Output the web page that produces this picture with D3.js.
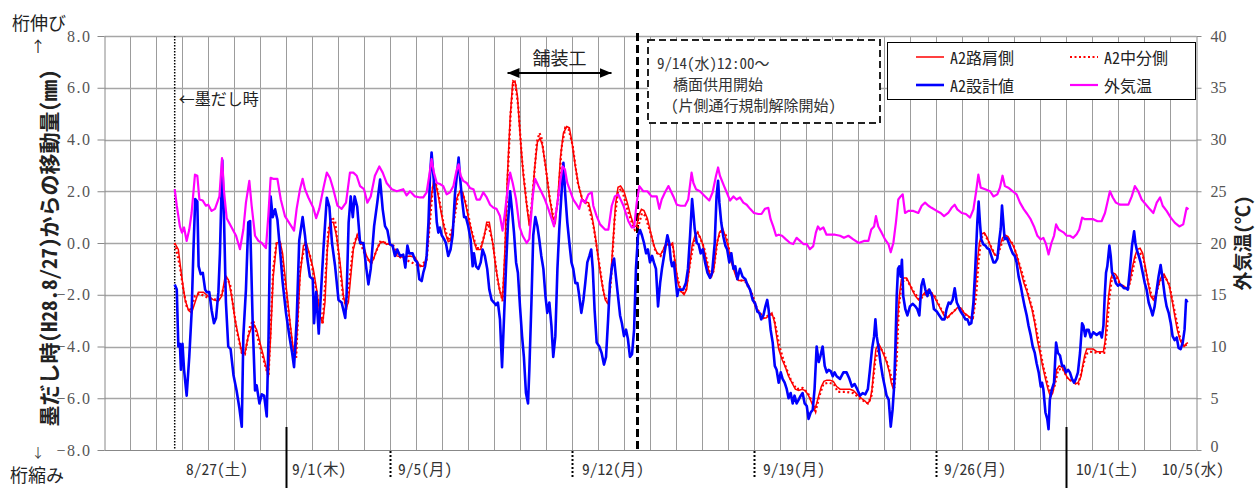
<!DOCTYPE html>
<html>
<head>
<meta charset="utf-8">
<script src="https://cdn.jsdelivr.net/npm/d3@7"></script>
<style>
  body { margin: 0; background: #fff; }
  svg { display: block; }
  .jp { font-family: "Noto Sans CJK JP", sans-serif; font-feature-settings: "hwid"; }
  .num { font-family: "Liberation Serif", serif; font-size: 16px; fill: #555; }
</style>
</head>
<body>
<script>
// time is counted in days from 8/25 0:00, values in mm (deck) and degC (air)
var roadSide = [
  [2.70,0.0],[2.84,-0.25],[2.97,-1.3],[3.10,-2.2],[3.23,-2.6],[3.35,-2.7],[3.48,-2.3],[3.61,-1.9],[3.80,-1.9],[3.99,-2.05],
  [4.19,-2.2],[4.38,-2.25],[4.51,-2.05],[4.63,-1.35],[4.76,-1.4],[4.89,-2.05],[5.02,-2.95],[5.15,-3.6],[5.28,-4.25],[5.40,-4.25],
  [5.53,-3.6],[5.72,-3.1],[5.85,-3.35],[5.98,-3.85],[6.11,-4.35],[6.24,-4.9],[6.30,-5.2],[6.39,-3.6],[6.49,-1.3],[6.62,0.0],
  [6.75,0.05],[6.85,-0.4],[7.01,-1.9],[7.14,-3.1],[7.26,-4.1],[7.35,-4.35],[7.42,-3.2],[7.52,-1.3],[7.65,-0.1],[7.78,-0.05],
  [7.90,-0.5],[8.03,-1.0],[8.16,-1.8],[8.29,-2.8],[8.39,-3.1],[8.48,-2.3],[8.57,-0.25],[8.67,0.8],[8.80,0.8],[8.93,0.25],
  [9.06,-0.75],[9.19,-2.05],[9.29,-2.5],[9.38,-2.3],[9.47,-1.3],[9.57,-0.25],[9.70,0.25],[9.80,0.15],[9.96,-0.1],[10.08,-0.5],
  [10.21,-0.75],[10.34,-0.65],[10.47,-0.25],[10.60,0.0],[10.72,0.05],[10.85,-0.05],[10.98,0.0],[11.11,-0.2],[11.24,-0.5],[11.49,-0.55],
  [11.75,-0.5],[11.94,-0.55],[12.14,-0.9],[12.26,-0.9],[12.37,-0.65],[12.46,0.3],[12.54,1.55],[12.65,2.35],[12.75,2.25],[12.84,1.8],
  [12.97,1.05],[13.10,0.4],[13.22,0.05],[13.31,0.1],[13.42,0.8],[13.54,1.7],[13.67,2.0],[13.78,1.95],[13.90,1.45],[14.03,0.8],
  [14.19,0.15],[14.31,-0.25],[14.47,-0.25],[14.60,0.25],[14.70,0.8],[14.80,0.8],[14.93,0.0],[15.06,-1.0],[15.19,-1.8],[15.31,-2.2],
  [15.40,-0.25],[15.49,2.45],[15.60,4.8],[15.70,6.2],[15.79,6.25],[15.88,5.7],[15.98,4.25],[16.11,2.6],[16.24,1.45],[16.34,0.65],
  [16.44,1.45],[16.54,2.85],[16.65,3.9],[16.75,4.05],[16.85,3.75],[16.98,2.85],[17.11,1.8],[17.24,1.0],[17.34,0.8],[17.44,1.8],
  [17.54,3.35],[17.65,4.25],[17.78,4.5],[17.88,4.45],[17.98,3.9],[18.11,2.95],[18.24,2.2],[18.37,1.7],[18.49,1.6],[18.62,1.55],
  [18.75,1.05],[18.88,0.25],[19.01,-0.75],[19.13,-1.55],[19.26,-2.2],[19.37,-2.35],[19.44,-1.8],[19.54,-0.25],[19.65,1.45],[19.75,2.15],
  [19.85,2.2],[19.98,2.0],[20.11,1.55],[20.24,1.05],[20.37,0.65],[20.47,0.65],[20.54,1.05],[20.65,1.3],[20.75,1.25],[20.88,0.95],
  [21.01,0.4],[21.13,-0.1],[21.26,-0.4],[21.39,-0.45],[21.49,-0.25],[21.60,0.0],[21.72,-0.1],[21.85,0.0],[21.95,-0.75],[22.06,-1.55],
  [22.16,-1.85],[22.29,-2.0],[22.39,-1.8],[22.49,-1.0],[22.60,-0.1],[22.70,0.25],[22.80,0.4],[22.90,0.25],[23.03,-0.1],[23.16,-0.75],
  [23.26,-1.15],[23.35,-1.3],[23.44,-1.0],[23.54,-0.1],[23.65,0.4],[23.78,0.55],[23.88,0.25],[23.98,-0.1],[24.08,-0.65],[24.19,-1.0],
  [24.29,-1.3],[24.39,-1.45],[24.52,-1.45],[24.65,-1.45],[24.78,-1.65],[24.90,-2.05],[25.03,-2.45],[25.16,-2.7],[25.29,-2.9],[25.44,-2.9],
  [25.57,-2.8],[25.67,-2.7],[25.78,-3.1],[25.85,-3.6],[25.93,-4.1],[26.06,-4.5],[26.19,-4.8],[26.31,-5.15],[26.44,-5.4],[26.57,-5.65],
  [26.70,-5.7],[26.83,-5.65],[26.95,-5.7],[27.08,-5.9],[27.21,-6.2],[27.31,-6.45],[27.39,-6.2],[27.47,-5.9],[27.57,-5.55],[27.67,-5.35],
  [27.78,-5.3],[27.90,-5.3],[28.03,-5.35],[28.16,-5.55],[28.29,-5.65],[28.42,-5.65],[28.54,-5.65],[28.67,-5.65],[28.80,-5.7],[28.95,-5.85],
  [29.11,-6.0],[29.24,-6.1],[29.34,-6.2],[29.44,-6.1],[29.52,-5.65],[29.60,-4.75],[29.67,-4.1],[29.78,-3.9],[29.88,-4.1],[29.98,-4.35],
  [30.08,-4.6],[30.19,-5.0],[30.26,-5.4],[30.34,-5.65],[30.42,-4.9],[30.49,-3.2],[30.57,-2.05],[30.65,-1.4],[30.75,-1.35],[30.85,-1.35],
  [30.95,-1.55],[31.06,-1.8],[31.19,-2.05],[31.31,-2.2],[31.44,-2.05],[31.57,-1.9],[31.70,-1.8],[31.78,-1.9],[31.90,-2.05],[32.03,-2.3],
  [32.16,-2.55],[32.29,-2.8],[32.42,-2.9],[32.54,-2.75],[32.67,-2.65],[32.80,-2.5],[32.93,-2.5],[33.06,-2.7],[33.19,-2.8],[33.31,-2.9],
  [33.42,-2.7],[33.49,-1.8],[33.57,-0.75],[33.65,0.0],[33.74,0.35],[33.83,0.4],[33.93,0.25],[34.03,0.0],[34.13,-0.25],[34.24,-0.45],
  [34.34,-0.5],[34.44,-0.1],[34.54,0.2],[34.65,0.3],[34.75,0.25],[34.85,0.05],[34.95,-0.1],[35.06,-0.4],[35.16,-0.75],[35.26,-1.15],
  [35.36,-1.55],[35.47,-1.85],[35.57,-2.2],[35.67,-2.55],[35.78,-3.1],[35.88,-3.75],[35.98,-4.25],[36.08,-4.75],[36.19,-5.25],[36.29,-5.65],
  [36.37,-5.9],[36.47,-5.8],[36.55,-5.4],[36.62,-4.9],[36.72,-4.75],[36.83,-4.8],[36.93,-5.0],[37.03,-5.2],[37.13,-5.3],[37.24,-5.3],
  [37.34,-5.45],[37.44,-5.4],[37.56,-5.15],[37.62,-4.75],[37.70,-4.35],[37.78,-4.1],[37.90,-4.1],[38.03,-4.1],[38.16,-4.2],[38.29,-4.2],
  [38.42,-4.2],[38.49,-3.75],[38.54,-2.95],[38.62,-2.05],[38.70,-1.4],[38.78,-1.15],[38.88,-1.2],[38.98,-1.35],[39.06,-1.6],[39.19,-1.65],
  [39.31,-1.75],[39.42,-1.6],[39.52,-1.0],[39.62,-0.55],[39.72,-0.25],[39.83,-0.2],[39.93,-0.4],[40.03,-0.9],[40.14,-1.55],[40.24,-2.05],
  [40.34,-2.2],[40.44,-2.0],[40.54,-1.6],[40.65,-1.3],[40.75,-1.2],[40.85,-1.4],[40.95,-1.65],[41.06,-2.2],[41.16,-2.8],[41.26,-3.35],
  [41.37,-3.75],[41.44,-3.9],[41.52,-4.0],[41.60,-3.9],[41.67,-3.85]
];

var median = [
  [2.70,0.0],[2.90,-0.9],[3.03,-1.8],[3.16,-2.45],[3.29,-2.65],[3.48,-2.05],[3.65,-1.95],[3.84,-2.05],[4.06,-2.15],[4.38,-2.2],
  [4.50,-2.0],[4.70,-1.35],[4.83,-1.6],[5.08,-3.35],[5.28,-4.25],[5.40,-4.3],[5.60,-3.2],[5.72,-3.0],[5.98,-4.0],[6.24,-4.95],
  [6.31,-5.15],[6.49,-1.0],[6.62,0.05],[6.75,0.1],[7.01,-2.05],[7.26,-4.25],[7.37,-4.45],[7.52,-1.0],[7.71,-0.05],[7.90,-0.45],
  [8.16,-1.9],[8.39,-3.15],[8.61,0.5],[8.74,1.0],[8.87,0.85],[9.19,-2.2],[9.31,-2.45],[9.57,-0.1],[9.72,0.3],[10.08,-0.6],
  [10.28,-0.75],[10.60,0.05],[10.85,0.0],[11.11,-0.1],[11.37,-0.55],[12.14,-0.9],[12.39,-0.65],[12.50,0.6],[12.63,2.2],[12.73,2.35],
  [12.84,1.9],[13.03,0.8],[13.22,0.1],[13.42,0.7],[13.60,1.85],[13.72,2.05],[13.90,1.55],[14.10,0.55],[14.31,-0.2],[14.47,-0.2],
  [14.62,0.35],[14.75,0.75],[14.93,0.05],[15.13,-1.5],[15.31,-2.25],[15.40,-0.6],[15.50,2.4],[15.62,5.0],[15.72,6.25],[15.80,6.2],
  [15.92,5.2],[16.05,3.3],[16.24,1.5],[16.36,0.7],[16.50,2.3],[16.63,3.9],[16.73,4.25],[16.80,4.1],[16.96,3.0],[17.13,1.7],
  [17.30,0.8],[17.45,1.7],[17.58,3.7],[17.72,4.45],[17.85,4.4],[18.00,3.8],[18.20,2.35],[18.40,1.6],[18.60,1.5],[18.80,0.7],
  [19.00,-0.6],[19.20,-1.95],[19.37,-2.35],[19.47,-1.6],[19.62,0.9],[19.75,2.0],[19.90,2.1],[20.05,1.5],[20.24,0.9],[20.40,0.5],
  [20.52,0.6],[20.67,1.15],[20.80,1.05],[21.01,0.35],[21.20,-0.35],[21.39,-0.5],[21.60,-0.05],[21.72,-0.1],[21.85,-0.05],[22.00,-1.2],
  [22.20,-1.95],[22.35,-1.9],[22.52,-0.8],[22.70,0.2],[22.82,0.4],[23.05,-0.15],[23.30,-1.25],[23.42,-1.1],[23.58,0.1],[23.72,0.5],
  [23.90,0.3],[24.10,-0.6],[24.35,-1.4],[24.65,-1.5],[24.90,-1.95],[25.10,-2.55],[25.35,-2.9],[25.62,-2.75],[25.75,-2.9],[25.95,-3.95],
  [26.15,-4.65],[26.40,-5.3],[26.62,-5.65],[26.85,-5.6],[27.05,-5.8],[27.25,-6.2],[27.35,-6.5],[27.50,-5.9],[27.65,-5.45],[27.85,-5.4],
  [28.05,-5.45],[28.20,-5.75],[28.50,-5.75],[28.80,-5.8],[29.10,-6.05],[29.36,-6.2],[29.50,-5.9],[29.65,-4.5],[29.80,-4.0],[30.00,-4.3],
  [30.20,-4.95],[30.38,-5.6],[30.47,-4.5],[30.55,-2.5],[30.67,-1.5],[30.85,-1.4],[31.10,-1.85],[31.35,-2.2],[31.70,-1.85],[31.90,-2.0],
  [32.20,-2.6],[32.42,-2.9],[32.70,-2.6],[32.93,-2.55],[33.20,-2.85],[33.40,-2.9],[33.52,-2.1],[33.62,-0.7],[33.72,0.2],[33.85,0.35],
  [34.05,-0.05],[34.25,-0.45],[34.36,-0.45],[34.55,0.1],[34.70,0.25],[34.95,-0.05],[35.20,-0.85],[35.45,-1.7],[35.70,-2.6],[35.90,-3.65],
  [36.10,-4.75],[36.30,-5.55],[36.42,-5.85],[36.55,-5.5],[36.68,-4.9],[36.85,-4.85],[37.05,-5.25],[37.30,-5.4],[37.46,-5.45],[37.60,-4.9],
  [37.75,-4.3],[37.90,-4.2],[38.20,-4.25],[38.45,-4.25],[38.55,-3.4],[38.65,-2.1],[38.75,-1.35],[38.90,-1.3],[39.10,-1.65],[39.36,-1.8],
  [39.50,-1.3],[39.65,-0.55],[39.80,-0.35],[39.95,-0.55],[40.10,-1.35],[40.30,-2.15],[40.42,-2.05],[40.60,-1.45],[40.78,-1.3],[40.95,-1.6],
  [41.15,-2.6],[41.35,-3.6],[41.50,-4.0],[41.67,-3.9]
];

var design = [
  [2.70,-1.6],[2.78,-1.8],[2.84,-4.0],[2.90,-3.9],[2.94,-4.9],[3.00,-3.9],[3.06,-4.9],[3.16,-5.9],[3.26,-4.4],[3.35,-2.7],
  [3.42,-0.3],[3.49,1.7],[3.57,1.6],[3.62,-0.9],[3.70,-1.2],[3.78,-1.15],[3.87,-1.8],[3.93,-1.9],[4.03,-1.9],[4.12,-2.6],
  [4.21,-3.1],[4.29,-2.9],[4.38,-1.9],[4.44,-0.4],[4.53,3.2],[4.60,0.8],[4.67,-2.3],[4.76,-4.0],[4.85,-4.1],[4.96,-5.1],
  [5.08,-5.7],[5.19,-6.4],[5.28,-7.1],[5.34,-3.6],[5.44,-1.8],[5.53,0.8],[5.60,0.85],[5.70,-3.1],[5.79,-5.7],[5.85,-5.5],
  [5.96,-6.2],[6.05,-5.85],[6.14,-5.9],[6.24,-6.7],[6.31,-3.6],[6.39,1.8],[6.47,1.0],[6.56,1.3],[6.65,0.9],[6.75,-0.25],
  [6.85,-1.5],[6.98,-2.7],[7.11,-3.6],[7.21,-4.2],[7.29,-4.8],[7.39,-3.0],[7.49,0.1],[7.62,1.0],[7.71,0.3],[7.80,-0.6],
  [7.90,-1.3],[8.01,-1.4],[8.06,-3.1],[8.14,-1.9],[8.24,-3.5],[8.31,-2.2],[8.42,-0.25],[8.55,1.75],[8.65,1.4],[8.75,0.0],
  [8.87,-0.9],[9.00,-2.2],[9.12,-2.3],[9.26,-2.9],[9.31,-2.05],[9.39,0.8],[9.47,1.8],[9.55,1.0],[9.62,1.8],[9.72,1.4],
  [9.83,0.0],[9.96,0.0],[10.06,-0.9],[10.15,-1.6],[10.24,-1.0],[10.37,0.65],[10.49,1.55],[10.60,2.45],[10.70,1.3],[10.79,0.65],
  [10.88,0.5],[10.98,-0.05],[11.08,-0.1],[11.17,-0.5],[11.26,-0.25],[11.37,-0.5],[11.49,-0.45],[11.57,-0.95],[11.65,-0.1],[11.72,-0.4],
  [11.85,-0.4],[11.94,-0.65],[12.03,-0.75],[12.11,-1.4],[12.20,-1.47],[12.26,-1.15],[12.33,-0.9],[12.39,-0.5],[12.46,0.8],[12.52,2.6],
  [12.58,3.5],[12.65,2.6],[12.71,1.9],[12.78,0.8],[12.84,0.4],[12.90,0.6],[12.97,0.3],[13.06,0.15],[13.13,0.0],[13.22,-0.5],
  [13.31,-0.25],[13.39,0.3],[13.48,1.9],[13.54,2.5],[13.62,3.3],[13.67,2.6],[13.75,1.7],[13.83,1.0],[13.90,1.0],[13.99,0.65],
  [14.08,0.15],[14.16,-0.9],[14.21,-0.4],[14.29,-0.9],[14.38,-1.0],[14.47,-0.75],[14.54,-0.25],[14.63,-0.5],[14.72,-1.0],[14.80,-1.8],
  [14.89,-2.2],[14.98,-2.3],[15.06,-2.4],[15.13,-2.3],[15.21,-2.95],[15.29,-4.8],[15.37,-2.8],[15.44,-1.0],[15.52,0.8],[15.60,2.0],
  [15.67,1.3],[15.75,0.4],[15.83,-0.75],[15.90,-1.15],[15.98,-2.45],[16.06,-3.6],[16.13,-4.4],[16.21,-5.8],[16.29,-6.2],[16.34,-4.9],
  [16.42,-2.3],[16.49,0.3],[16.57,1.0],[16.65,0.65],[16.72,0.15],[16.80,-0.5],[16.88,-1.0],[16.96,-2.05],[17.03,-2.7],[17.11,-2.3],
  [17.19,-3.2],[17.26,-4.4],[17.34,-3.6],[17.42,-1.0],[17.49,0.5],[17.57,1.8],[17.65,3.1],[17.72,1.9],[17.80,0.8],[17.88,0.0],
  [17.96,-0.75],[18.03,-1.0],[18.11,-1.55],[18.19,-1.55],[18.26,-2.05],[18.34,-2.7],[18.42,-2.2],[18.49,-1.55],[18.57,-0.75],[18.65,-0.5],
  [18.72,-0.25],[18.78,-1.0],[18.85,-2.6],[18.93,-3.85],[19.03,-4.0],[19.12,-4.25],[19.21,-4.7],[19.29,-4.4],[19.37,-2.95],[19.44,-1.55],
  [19.52,-0.9],[19.60,-0.6],[19.67,-1.3],[19.75,-2.05],[19.83,-2.8],[19.90,-3.1],[19.98,-3.6],[20.06,-3.35],[20.13,-3.7],[20.21,-4.4],
  [20.29,-4.3],[20.37,-3.35],[20.44,-1.0],[20.52,0.3],[20.60,0.5],[20.67,0.3],[20.75,0.0],[20.83,-0.4],[20.90,-0.25],[20.98,-0.75],
  [21.06,-0.5],[21.13,-0.75],[21.21,-1.0],[21.29,-2.45],[21.37,-1.55],[21.44,-1.0],[21.52,-0.5],[21.60,0.0],[21.65,0.3],[21.72,0.0],
  [21.78,-0.65],[21.83,-0.9],[21.90,-0.75],[21.98,-1.55],[22.03,-2.05],[22.08,-1.8],[22.16,-1.8],[22.26,-1.8],[22.36,-1.55],[22.44,-1.0],
  [22.52,0.25],[22.60,1.7],[22.65,1.15],[22.70,0.55],[22.78,0.0],[22.85,-0.05],[22.93,-0.4],[23.01,-0.25],[23.10,-0.75],[23.19,-1.15],
  [23.29,-1.35],[23.37,-1.15],[23.47,0.0],[23.54,1.8],[23.60,2.4],[23.65,1.55],[23.72,0.8],[23.80,0.25],[23.88,-0.1],[23.95,-0.25],
  [24.03,-0.75],[24.11,-0.4],[24.19,-1.0],[24.26,-0.9],[24.34,-1.4],[24.44,-1.0],[24.54,-1.3],[24.65,-1.4],[24.72,-1.6],[24.83,-1.8],
  [24.93,-2.2],[25.03,-2.35],[25.11,-2.65],[25.19,-2.7],[25.26,-2.95],[25.34,-2.8],[25.42,-2.45],[25.49,-2.2],[25.54,-2.55],[25.62,-3.35],
  [25.70,-3.85],[25.78,-4.75],[25.85,-4.9],[25.93,-5.4],[26.01,-5.0],[26.08,-5.25],[26.16,-5.4],[26.24,-5.65],[26.31,-6.0],[26.39,-5.8],
  [26.47,-6.2],[26.54,-5.9],[26.62,-6.2],[26.70,-6.05],[26.78,-5.9],[26.85,-5.8],[26.93,-6.2],[27.01,-6.3],[27.08,-6.8],[27.16,-6.55],
  [27.24,-6.45],[27.31,-5.65],[27.39,-4.0],[27.47,-4.6],[27.54,-4.35],[27.62,-4.0],[27.70,-4.75],[27.78,-5.0],[27.85,-4.9],[27.93,-4.95],
  [28.01,-5.15],[28.08,-5.0],[28.16,-5.15],[28.29,-5.25],[28.42,-5.0],[28.54,-5.0],[28.65,-5.25],[28.75,-5.55],[28.85,-5.45],[28.95,-5.65],
  [29.06,-5.9],[29.16,-5.8],[29.26,-5.85],[29.36,-5.65],[29.44,-4.9],[29.52,-4.1],[29.60,-3.6],[29.65,-2.95],[29.70,-3.6],[29.78,-4.1],
  [29.85,-4.65],[29.93,-5.15],[30.01,-5.55],[30.08,-5.9],[30.16,-6.05],[30.24,-7.1],[30.31,-6.45],[30.37,-5.55],[30.42,-4.0],[30.47,-2.05],
  [30.52,-1.0],[30.57,-0.9],[30.62,-1.3],[30.67,-0.65],[30.72,-2.05],[30.80,-2.55],[30.88,-2.8],[30.98,-2.45],[31.08,-2.35],[31.19,-2.45],
  [31.26,-2.55],[31.34,-2.8],[31.42,-1.65],[31.49,-1.4],[31.57,-1.8],[31.65,-2.05],[31.72,-1.8],[31.83,-2.05],[31.90,-2.55],[32.01,-2.65],
  [32.11,-2.8],[32.21,-2.95],[32.31,-2.95],[32.39,-2.55],[32.47,-2.3],[32.54,-2.35],[32.62,-2.2],[32.70,-1.75],[32.78,-2.3],[32.85,-2.45],
  [32.93,-2.65],[33.03,-2.8],[33.11,-2.95],[33.19,-2.95],[33.26,-3.15],[33.34,-3.1],[33.42,-2.3],[33.49,-1.0],[33.57,0.8],[33.62,1.6],
  [33.67,0.8],[33.72,0.15],[33.80,-0.05],[33.88,-0.1],[33.95,-0.2],[34.03,-0.25],[34.11,-0.5],[34.19,-0.75],[34.26,-0.75],[34.34,-0.6],
  [34.42,0.15],[34.47,0.55],[34.52,1.45],[34.57,0.8],[34.62,0.15],[34.70,0.2],[34.78,0.0],[34.85,-0.2],[34.93,-0.4],[35.01,-0.5],
  [35.08,-0.75],[35.16,-1.3],[35.24,-1.65],[35.31,-2.05],[35.39,-2.45],[35.47,-2.8],[35.54,-3.2],[35.62,-3.55],[35.70,-4.0],[35.78,-4.25],
  [35.85,-4.65],[35.93,-5.0],[36.01,-5.55],[36.06,-5.4],[36.11,-5.65],[36.19,-6.55],[36.26,-6.8],[36.31,-7.2],[36.36,-6.05],[36.44,-5.65],
  [36.52,-5.4],[36.60,-3.85],[36.67,-4.25],[36.75,-4.35],[36.83,-4.75],[36.90,-4.75],[36.98,-5.0],[37.06,-4.9],[37.13,-5.0],[37.21,-5.25],
  [37.29,-5.4],[37.36,-5.25],[37.44,-5.0],[37.52,-4.25],[37.60,-3.1],[37.65,-3.2],[37.72,-3.6],[37.78,-3.35],[37.85,-3.35],[37.93,-3.65],
  [38.03,-3.45],[38.16,-3.55],[38.29,-3.45],[38.36,-3.65],[38.42,-3.2],[38.47,-2.05],[38.52,-1.15],[38.57,-0.9],[38.65,-0.1],[38.70,-0.5],
  [38.75,-1.15],[38.83,-1.3],[38.90,-1.55],[38.98,-1.65],[39.06,-1.6],[39.13,-1.65],[39.21,-1.75],[39.29,-1.75],[39.36,-1.8],[39.44,-1.0],
  [39.52,-0.1],[39.60,0.45],[39.65,0.0],[39.70,-0.25],[39.78,-0.5],[39.85,-0.75],[39.93,-1.15],[40.01,-1.55],[40.08,-1.8],[40.16,-2.3],
  [40.24,-2.55],[40.31,-2.8],[40.39,-2.45],[40.47,-1.8],[40.54,-1.3],[40.62,-0.85],[40.70,-1.4],[40.78,-2.05],[40.85,-2.45],[40.93,-2.7],
  [41.01,-3.1],[41.08,-3.6],[41.16,-3.75],[41.24,-3.65],[41.31,-4.05],[41.39,-4.1],[41.47,-3.85],[41.54,-3.35],[41.60,-2.2],[41.65,-2.3]
];

var airTemp = [
  [2.70,25.2],[2.78,23.6],[2.90,21.6],[2.98,21.0],[3.06,21.5],[3.16,20.2],[3.26,21.3],[3.35,22.9],[3.48,26.6],[3.57,26.5],
  [3.65,24.2],[3.78,24.1],[3.90,23.6],[3.99,23.7],[4.12,23.1],[4.25,23.3],[4.42,24.5],[4.52,28.2],[4.60,24.9],[4.70,22.4],
  [4.89,21.5],[5.06,20.7],[5.21,19.4],[5.34,21.3],[5.44,23.9],[5.57,26.0],[5.66,23.6],[5.79,20.7],[5.92,20.2],[6.05,20.0],
  [6.21,19.5],[6.30,22.6],[6.39,26.3],[6.49,26.2],[6.65,26.2],[6.78,24.2],[6.94,22.6],[7.14,21.8],[7.29,21.2],[7.39,23.3],
  [7.52,25.2],[7.62,26.2],[7.71,25.2],[7.84,24.4],[8.03,23.4],[8.14,22.4],[8.26,23.3],[8.42,25.3],[8.55,26.8],[8.67,26.3],
  [8.80,25.2],[8.96,23.6],[9.12,23.3],[9.29,23.9],[9.44,26.8],[9.57,26.8],[9.70,26.5],[9.83,25.5],[9.98,25.2],[10.11,23.9],
  [10.24,24.5],[10.40,26.5],[10.57,27.4],[10.70,26.8],[10.85,25.8],[11.05,25.2],[11.24,25.0],[11.49,25.2],[11.62,24.6],[11.75,25.0],
  [11.94,24.5],[12.14,24.4],[12.26,24.4],[12.39,24.9],[12.49,26.5],[12.58,28.1],[12.67,26.8],[12.78,25.8],[12.90,25.7],[13.03,25.5],
  [13.16,24.7],[13.29,24.9],[13.42,25.5],[13.54,27.0],[13.62,27.6],[13.70,26.5],[13.80,26.0],[13.93,25.8],[14.06,25.3],[14.19,25.2],
  [14.31,24.2],[14.44,24.2],[14.57,24.9],[14.70,24.4],[14.83,23.7],[14.96,23.4],[15.08,23.3],[15.21,22.6],[15.31,21.2],[15.40,22.9],
  [15.49,24.9],[15.60,26.8],[15.70,25.8],[15.83,24.2],[15.96,21.6],[16.08,20.7],[16.24,20.0],[16.34,20.4],[16.47,24.5],[16.56,26.2],
  [16.69,25.5],[16.81,24.9],[16.94,24.2],[17.07,23.3],[17.20,22.3],[17.29,21.6],[17.39,23.3],[17.52,25.8],[17.62,27.4],[17.71,27.1],
  [17.80,25.8],[17.93,24.9],[18.03,24.2],[18.16,23.7],[18.26,23.3],[18.35,24.2],[18.48,23.9],[18.61,24.7],[18.74,24.9],[18.80,23.6],
  [18.93,22.6],[19.06,21.8],[19.25,21.3],[19.38,21.3],[19.51,23.6],[19.63,24.5],[19.76,24.7],[19.96,23.6],[20.15,22.1],[20.28,21.5],
  [20.37,21.5],[20.47,23.9],[20.57,25.5],[20.72,25.0],[20.88,25.0],[21.04,24.5],[21.24,24.5],[21.34,23.3],[21.43,24.2],[21.56,24.9],
  [21.69,25.5],[21.88,24.5],[22.01,23.7],[22.16,23.6],[22.33,23.6],[22.45,24.2],[22.58,26.8],[22.65,25.8],[22.75,25.2],[22.90,25.0],
  [23.10,24.5],[23.26,24.1],[23.39,24.9],[23.52,26.5],[23.60,27.3],[23.67,26.5],[23.83,25.5],[23.93,24.9],[24.06,24.1],[24.19,24.5],
  [24.31,24.2],[24.44,24.4],[24.57,23.9],[24.70,23.7],[24.83,23.3],[24.98,22.9],[25.15,22.8],[25.27,22.8],[25.40,23.3],[25.53,23.4],
  [25.62,22.3],[25.72,21.6],[25.83,20.7],[25.93,20.8],[26.06,20.7],[26.21,20.35],[26.37,20.0],[26.49,19.9],[26.62,20.5],[26.75,20.2],
  [26.88,19.9],[27.01,19.9],[27.13,19.4],[27.26,19.7],[27.36,21.0],[27.44,21.6],[27.52,21.3],[27.65,21.5],[27.77,20.8],[27.93,20.8],
  [28.10,20.8],[28.29,20.7],[28.44,20.5],[28.61,20.7],[28.80,20.35],[29.01,20.0],[29.21,20.2],[29.38,20.2],[29.49,21.3],[29.60,21.6],
  [29.67,22.6],[29.76,21.6],[29.89,21.0],[30.02,20.35],[30.15,19.9],[30.24,19.1],[30.34,20.0],[30.44,22.0],[30.53,24.2],[30.62,24.5],
  [30.70,24.7],[30.79,22.9],[30.92,23.1],[31.11,23.1],[31.30,22.9],[31.43,23.6],[31.56,23.9],[31.69,23.6],[31.81,23.4],[32.01,23.1],
  [32.16,22.9],[32.29,22.6],[32.45,22.9],[32.58,23.4],[32.70,23.7],[32.80,23.25],[32.97,22.9],[33.13,22.8],[33.29,22.45],[33.42,23.25],
  [33.52,24.9],[33.61,26.6],[33.70,25.35],[33.87,25.2],[34.06,25.0],[34.19,24.5],[34.34,24.7],[34.44,25.35],[34.54,26.5],[34.63,25.5],
  [34.76,25.35],[34.93,25.0],[35.08,24.7],[35.21,23.9],[35.36,23.25],[35.49,22.8],[35.62,22.3],[35.75,21.6],[35.88,20.7],[36.01,20.35],
  [36.11,20.5],[36.21,19.9],[36.31,18.9],[36.42,20.0],[36.52,20.7],[36.60,21.8],[36.70,21.3],[36.80,21.15],[36.90,21.0],[37.01,20.7],
  [37.13,20.7],[37.26,20.5],[37.39,20.85],[37.49,21.3],[37.60,22.45],[37.71,22.3],[37.88,22.3],[38.03,22.3],[38.19,22.1],[38.35,22.1],
  [38.48,22.9],[38.57,23.9],[38.67,25.0],[38.78,24.4],[38.90,23.9],[39.06,23.7],[39.21,23.7],[39.38,23.7],[39.51,24.5],[39.63,25.5],
  [39.76,25.0],[39.89,24.2],[40.06,23.7],[40.21,23.25],[40.34,22.9],[40.47,23.9],[40.60,24.4],[40.70,23.6],[40.85,23.1],[41.01,22.45],
  [41.17,21.95],[41.34,21.6],[41.49,21.8],[41.57,22.8],[41.62,23.4],[41.69,23.25]
];

var mmTicks = [-8, -6, -4, -2, 0, 2, 4, 6, 8];
var tempTicks = [0, 5, 10, 15, 20, 25, 30, 35, 40];
var dateLabels = ["8/27(土)", "9/1(木)", "9/5(月)", "9/12(月)", "9/19(月)", "9/26(月)", "10/1(土)", "10/5(水)"];
var dateLabelAt = [3.13, 7.21, 11.29, 18.37, 25.33, 32.29, 37.37, 40.67];
var solidTickDays = [7, 37];
var dottedTickDays = [11, 18, 25, 32];
var markDay = 2.7;      // 墨だし時
var openDay = 20.5;     // 9/14 12:00
var pavingDays = [15.5, 19.5];

var svg = d3.select("body").append("svg").attr("width", 1255).attr("height", 488);

var x = d3.scaleLinear().domain([0, 42]).range([104.5, 1196.5]);
var y = d3.scaleLinear().domain([-8, 8]).range([450, 36]);
var yTemp = d3.scaleLinear().domain([0, 40]).range([450, 36]);

// grid
svg.append("g").selectAll("line").data(d3.range(1, 42)).enter().append("line")
  .attr("x1", function(d) { return x(d); }).attr("x2", function(d) { return x(d); })
  .attr("y1", y(8)).attr("y2", y(-8))
  .style("stroke", "#9c9c9c").style("stroke-width", 1);
svg.append("g").selectAll("line").data(mmTicks.slice(1)).enter().append("line")
  .attr("x1", x(0)).attr("x2", x(42))
  .attr("y1", function(d) { return Math.round(y(d)) + 0.5; })
  .attr("y2", function(d) { return Math.round(y(d)) + 0.5; })
  .style("stroke", "#a6a6a6").style("stroke-width", 1.3);

// axes
var left = svg.append("g").attr("transform", "translate(" + x(0) + ",0)")
  .call(d3.axisLeft(y).tickValues(mmTicks).tickSize(7).tickSizeOuter(0).tickPadding(6).tickFormat(d3.format(".1f")));
var right = svg.append("g").attr("transform", "translate(" + x(42) + ",0)")
  .call(d3.axisRight(yTemp).tickValues(tempTicks).tickSize(5).tickSizeOuter(0).tickPadding(9));
[left, right].forEach(function(g) {
  g.attr("font-family", null).attr("font-size", null);
  g.select(".domain").style("stroke", "#888");
  g.selectAll(".tick line").style("stroke", "#888");
  g.selectAll(".tick text").attr("class", "num");
});
left.selectAll(".tick text").style("letter-spacing", "1.5px");
right.selectAll(".tick text").attr("dy", function(d) { return d === 0 ? "0.1em" : "0.32em"; });
svg.append("line").attr("x1", x(0)).attr("x2", x(42)).attr("y1", 450.5).attr("y2", 450.5)
  .style("stroke", "#888");

// day ticks under the axis
svg.append("g").selectAll("line").data(solidTickDays).enter().append("line")
  .attr("x1", function(d) { return x(d); }).attr("x2", function(d) { return x(d); })
  .attr("y1", 427).attr("y2", 488)
  .style("stroke", "#000").style("stroke-width", 2);
svg.append("g").selectAll("line").data(dottedTickDays).enter().append("line")
  .attr("x1", function(d) { return x(d); }).attr("x2", function(d) { return x(d); })
  .attr("y1", 451).attr("y2", 478)
  .style("stroke", "#000").style("stroke-width", 2).style("stroke-dasharray", "2,2");
svg.append("g").selectAll("text").data(dateLabels).enter().append("text")
  .attr("class", "jp")
  .attr("x", function(d, i) { return x(dateLabelAt[i]); })
  .attr("y", 468).attr("dominant-baseline", "central")
  .style("font-size", "15.5px").style("fill", "#333")
  .text(function(d) { return d; });

// marker lines
svg.append("line").attr("x1", x(markDay)).attr("x2", x(markDay)).attr("y1", 36).attr("y2", 450)
  .style("stroke", "#000").style("stroke-width", 1.5).style("stroke-dasharray", "1.5,1.5");
svg.append("line").attr("x1", x(openDay)).attr("x2", x(openDay)).attr("y1", 33).attr("y2", 450)
  .style("stroke", "#000").style("stroke-width", 3).style("stroke-dasharray", "8,4");

// series
var lineMm = d3.line().x(function(d) { return x(d[0]); }).y(function(d) { return y(d[1]); });
var lineTemp = d3.line().x(function(d) { return x(d[0]); }).y(function(d) { return yTemp(d[1]); });

svg.append("path").datum(roadSide).attr("d", lineMm)
  .style("fill", "none").style("stroke", "#ff0000").style("stroke-width", 1.5);
svg.append("path").datum(median).attr("d", lineMm)
  .style("fill", "none").style("stroke", "#ff0000").style("stroke-width", 2.2).style("stroke-dasharray", "2,2.5");
svg.append("path").datum(design).attr("d", lineMm)
  .style("fill", "none").style("stroke", "#0000ff").style("stroke-width", 2.6).style("stroke-linejoin", "round");
svg.append("path").datum(airTemp).attr("d", lineTemp)
  .style("fill", "none").style("stroke", "#ff00ff").style("stroke-width", 2.2).style("stroke-linejoin", "round");

// annotations
svg.append("text").attr("class", "jp").attr("x", x(markDay) + 4).attr("y", 98)
  .attr("dominant-baseline", "central").style("font-size", "16px").style("fill", "#222")
  .text("←墨だし時");

var defs = svg.append("defs");
defs.append("marker").attr("id", "ah").attr("viewBox", "0 0 12 10").attr("refX", 12).attr("refY", 5)
  .attr("markerWidth", 12).attr("markerHeight", 10).attr("markerUnits", "userSpaceOnUse")
  .attr("orient", "auto-start-reverse")
  .append("path").attr("d", "M0,0L12,5L0,10Z").style("fill", "#000");
svg.append("line").attr("x1", x(pavingDays[0])).attr("x2", x(pavingDays[1])).attr("y1", 73).attr("y2", 73)
  .style("stroke", "#000").style("stroke-width", 2)
  .attr("marker-start", "url(#ah)").attr("marker-end", "url(#ah)");
svg.append("text").attr("class", "jp").attr("x", (x(pavingDays[0]) + x(pavingDays[1])) / 2).attr("y", 57)
  .attr("text-anchor", "middle").attr("dominant-baseline", "central")
  .style("font-size", "18px").style("fill", "#222").text("舗装工");

svg.append("rect").attr("x", 648).attr("y", 40).attr("width", 232).attr("height", 83)
  .style("fill", "#fff").style("stroke", "#222").style("stroke-width", 2).style("stroke-dasharray", "7,4");
var noteLines = ["9/14(水)12:00", "橋面供用開始", "(片側通行規制解除開始)"];
var noteX = [657, 673, 671];
var noteY = [62, 83, 104];
var note = svg.append("g").selectAll("text").data(noteLines).enter().append("text")
  .attr("class", "jp").attr("x", function(d, i) { return noteX[i]; }).attr("y", function(d, i) { return noteY[i]; })
  .attr("dominant-baseline", "central").style("font-size", "15px").style("fill", "#333")
  .text(function(d) { return d; });
note.filter(function(d, i) { return i === 0; }).append("tspan")
  .style("font-feature-settings", "normal").text("～");

// legend
var lg = svg.append("g");
lg.append("rect").attr("x", 887.5).attr("y", 42.5).attr("width", 308).attr("height", 57)
  .style("fill", "#fff").style("stroke", "#000").style("stroke-width", 1);
var legendItems = [
  { name: "A2路肩側", color: "#ff0000", w: 1.5, dash: null, lx: 916, ly: 57 },
  { name: "A2中分側", color: "#ff0000", w: 2.2, dash: "2,2.5", lx: 1070, ly: 57 },
  { name: "A2設計値", color: "#0000ff", w: 2.6, dash: null, lx: 916, ly: 85 },
  { name: "外気温", color: "#ff00ff", w: 2.2, dash: null, lx: 1070, ly: 85 }
];
legendItems.forEach(function(d) {
  lg.append("line").attr("x1", d.lx).attr("x2", d.lx + 28).attr("y1", d.ly).attr("y2", d.ly)
    .style("stroke", d.color).style("stroke-width", d.w).style("stroke-dasharray", d.dash);
  lg.append("text").attr("class", "jp").attr("x", d.lx + 34).attr("y", d.ly)
    .attr("dominant-baseline", "central").style("font-size", "16px").style("fill", "#222").text(d.name);
});

// axis titles
svg.append("text").attr("class", "jp").attr("transform", "translate(48,248) rotate(-90)")
  .attr("text-anchor", "middle").attr("dominant-baseline", "central")
  .style("font-size", "21px").style("font-weight", "bold").style("fill", "#222")
  .text("墨だし時(H28.8/27)からの移動量(mm)");
svg.append("text").attr("class", "jp").attr("transform", "translate(1241,243) rotate(-90)")
  .attr("text-anchor", "middle").attr("dominant-baseline", "central")
  .style("font-size", "19px").style("font-weight", "bold").style("fill", "#222")
  .text("外気温(℃)");

svg.append("text").attr("class", "jp").attr("x", 12).attr("y", 22).attr("dominant-baseline", "central")
  .style("font-size", "18px").style("fill", "#222").text("桁伸び");
svg.append("text").attr("class", "jp").attr("x", 38).attr("y", 45).attr("text-anchor", "middle")
  .attr("dominant-baseline", "central").style("font-size", "15px").style("fill", "#222").text("↑");
svg.append("text").attr("class", "jp").attr("x", 38).attr("y", 451).attr("text-anchor", "middle")
  .attr("dominant-baseline", "central").style("font-size", "13px").style("fill", "#444").text("↓");
svg.append("text").attr("class", "jp").attr("x", 10).attr("y", 474).attr("dominant-baseline", "central")
  .style("font-size", "18px").style("fill", "#222").text("桁縮み");
</script>
</body>
</html>
